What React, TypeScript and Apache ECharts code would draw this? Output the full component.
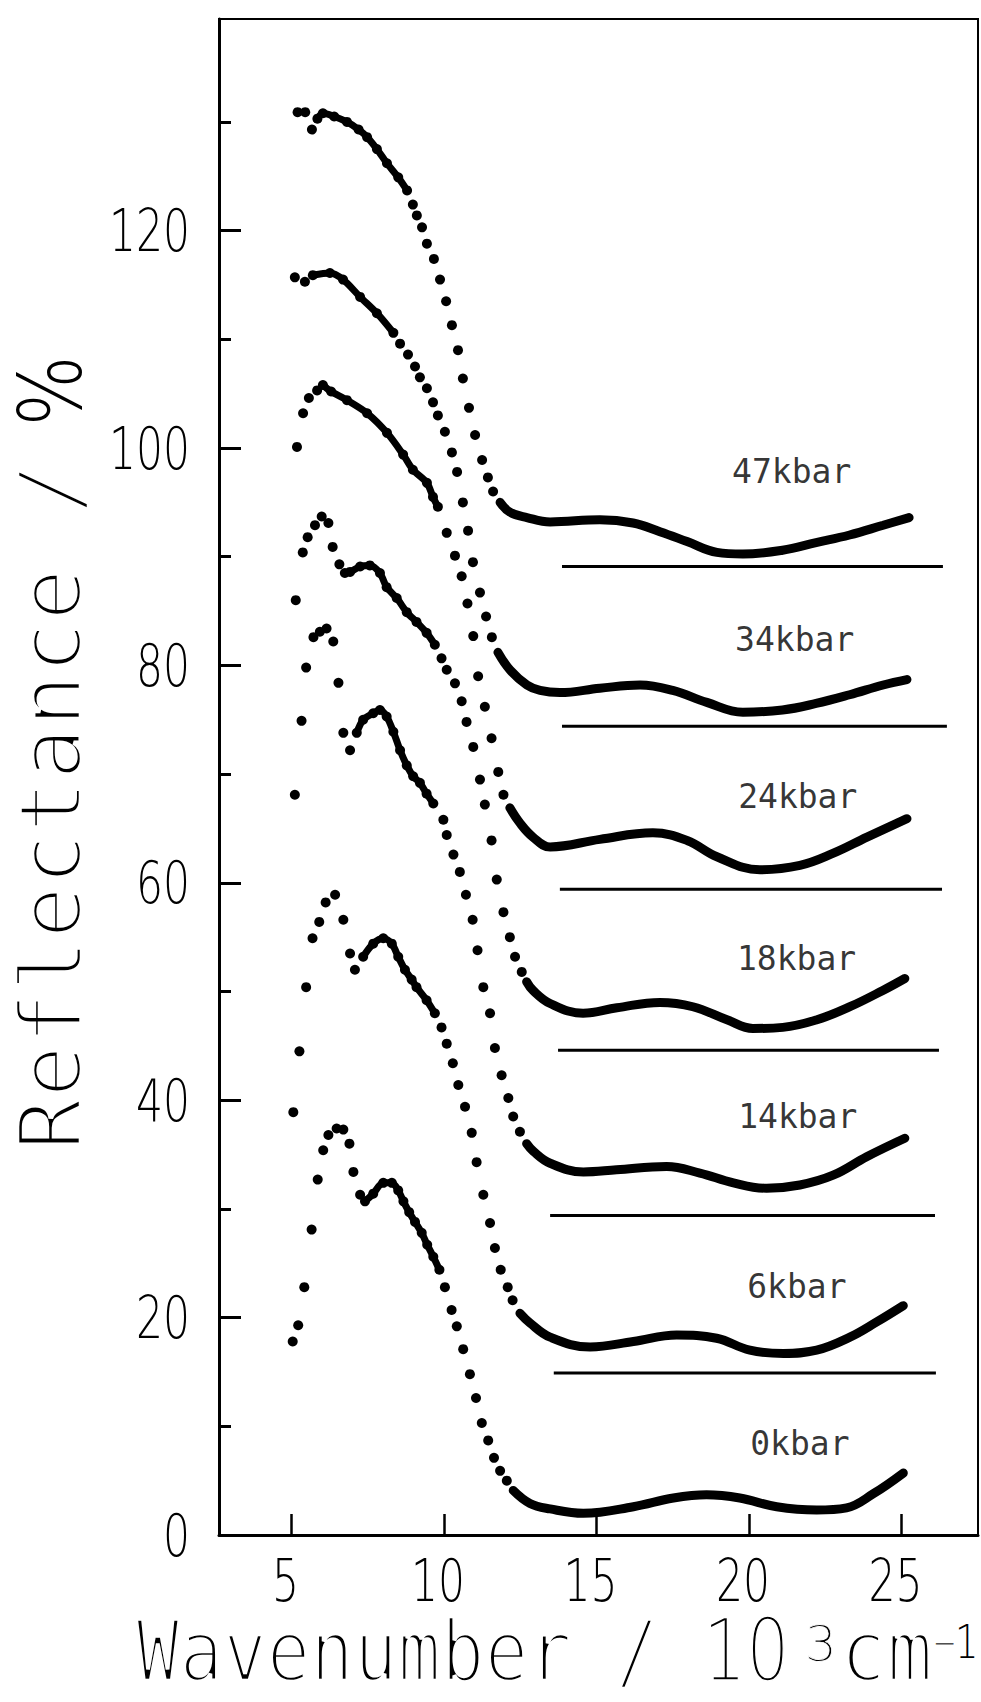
import React, { useEffect, useRef } from "react";
import * as echarts from "echarts";

// ---- axes ----
const xTicks = [5, 10, 15, 20, 25];
const yMajorTicks = [0, 20, 40, 60, 80, 100, 120];
const yMinorTicks = [10, 30, 50, 70, 90, 110, 130];
const xMin = 2.623;
const xMax = 27.51;
const yMax = 139.47;

// ---- curves: sparse dots, dense chains near the peak, dense tails ----
const dots0 = [[5.04,17.8],[5.22,19.3],[5.42,22.8],[5.66,28.1],[5.86,32.7],[6.04,35.4],[6.21,36.8],[6.48,37.4],[6.7,37.3],[6.9,36.0],[7.03,33.4],[7.25,31.3],[10.03,22.8],[10.25,20.7],[10.42,19.2],[10.63,17.1],[10.85,14.8],[11.05,12.6],[11.24,10.3],[11.45,8.7],[11.64,7.1],[11.84,5.9],[12.06,5.0]];
const chain0 = [[7.41,30.7],[7.68,31.4],[8.01,32.4],[8.29,32.4],[8.5,31.7],[8.67,30.7],[8.86,29.7],[9.05,28.8],[9.27,27.8],[9.45,26.7],[9.65,25.6],[9.85,24.4]];
const tail0 = [[12.27,4.1],[12.82,2.9],[13.48,2.4],[14.57,2.0],[16.21,2.6],[17.52,3.4],[18.61,3.7],[19.7,3.4],[20.91,2.6],[22.22,2.3],[23.2,2.5],[24.08,3.8],[25.06,5.7]];

const dots6 = [[5.06,38.9],[5.26,44.5],[5.48,50.4],[5.69,54.9],[5.91,56.4],[6.12,58.2],[6.43,58.9],[6.7,56.6],[6.92,53.5],[7.08,52.0],[9.92,46.7],[10.09,45.2],[10.29,43.4],[10.47,41.4],[10.69,39.4],[10.91,37.0],[11.07,34.3],[11.29,31.3],[11.51,28.7],[11.67,26.4],[11.86,24.4],[12.09,22.8],[12.25,21.6]];
const chain6 = [[7.35,53.2],[7.68,54.4],[8.01,54.9],[8.29,54.4],[8.5,53.2],[8.72,52.0],[8.94,51.1],[9.1,50.4],[9.43,49.2],[9.7,48.0]];
const tail6 = [[12.49,20.4],[12.82,19.5],[13.48,18.2],[14.79,17.3],[16.21,17.8],[17.63,18.4],[18.94,18.1],[20.03,17.0],[21.13,16.7],[22.22,17.0],[23.31,18.2],[24.19,19.6],[25.06,21.1]];

const dots14 = [[5.11,68.1],[5.33,74.9],[5.48,79.8],[5.72,82.6],[5.93,83.1],[6.15,83.4],[6.37,82.2],[6.54,78.4],[6.7,73.8],[6.92,72.2],[9.98,65.8],[10.09,64.4],[10.31,62.6],[10.52,61.0],[10.72,58.9],[10.94,56.6],[11.1,53.8],[11.29,50.4],[11.51,48.0],[11.67,44.8],[11.89,42.3],[12.11,40.2],[12.27,38.5],[12.49,37.1]];
const chain14 = [[7.14,73.8],[7.35,75.0],[7.68,75.6],[7.9,75.9],[8.12,75.3],[8.34,73.9],[8.56,72.2],[8.78,70.8],[8.99,69.8],[9.21,69.2],[9.43,68.2],[9.65,67.3]];
const tail14 = [[12.71,36.0],[12.93,35.3],[13.48,34.2],[14.57,33.4],[15.66,33.6],[17.3,33.9],[18.39,33.3],[19.49,32.4],[20.58,31.9],[21.67,32.2],[22.76,33.1],[23.86,34.8],[25.11,36.5]];

const dots18 = [[5.14,86.0],[5.37,90.4],[5.53,91.8],[5.77,92.9],[5.99,93.7],[6.21,93.1],[6.35,90.9],[6.57,89.3],[9.92,80.65],[10.09,79.6],[10.36,78.35],[10.58,76.7],[10.74,74.8],[10.96,72.5],[11.18,69.5],[11.34,67.2],[11.56,63.9],[11.73,60.3],[11.95,57.3],[12.16,55.0],[12.33,53.2],[12.55,51.8]];
const chain18 = [[6.75,88.5],[6.92,88.6],[7.25,89.1],[7.57,89.2],[7.9,88.5],[8.12,87.2],[8.45,86.2],[8.78,84.9],[9.1,84.0],[9.43,83.0],[9.7,81.9]];
const tail18 = [[12.71,50.9],[12.92,50.1],[13.48,48.9],[14.56,48.0],[15.67,48.5],[17.08,49.0],[18.16,48.6],[19.28,47.4],[20.13,46.6],[21.11,46.7],[22.23,47.4],[23.31,48.6],[24.39,50.1],[25.11,51.2]];

const dots24 = [[5.18,100.1],[5.38,103.2],[5.57,104.6],[5.84,105.3],[10.09,92.2],[10.36,90.1],[10.58,88.2],[10.77,85.7],[10.96,82.7],[11.12,79.0],[11.34,76.2],[11.56,73.3],[11.78,70.2],[11.95,68.1]];
const chain24 = [[6.03,105.8],[6.3,105.2],[6.82,104.4],[7.48,103.2],[8.13,101.4],[8.66,99.4],[8.98,98.0],[9.44,96.8],[9.64,95.5],[9.8,94.6]];
const tail24 = [[12.16,66.9],[12.49,65.5],[12.92,64.2],[13.48,63.3],[15.11,64.0],[16.85,64.6],[17.97,63.9],[18.95,62.4],[20.36,61.2],[21.67,61.6],[22.75,62.7],[23.87,64.2],[25.18,65.9]];

const dots34 = [[5.11,115.7],[5.44,115.3],[8.56,109.6],[8.82,108.6],[9.05,107.5],[9.21,106.5],[9.44,105.5],[9.64,104.2],[9.8,103.0],[10.03,101.5],[10.26,99.6],[10.43,97.8],[10.62,95.0],[10.79,92.4],[10.95,89.5],[11.18,86.7],[11.38,84.5],[11.57,82.6]];
const chain34 = [[5.7,115.9],[6.26,116.1],[6.69,115.5],[7.25,113.9],[7.8,112.4],[8.34,110.6]];
const tail34 = [[11.77,81.2],[12.16,79.6],[12.72,78.2],[13.15,77.7],[13.8,77.5],[15.11,77.9],[16.43,78.2],[17.5,77.7],[18.62,76.6],[19.8,75.7],[21.1,75.9],[22.2,76.5],[23.3,77.3],[24.4,78.2],[25.18,78.7]];

const dots47 = [[5.2,130.9],[5.45,130.9],[5.67,129.3],[8.98,122.4],[9.11,121.4],[9.28,120.3],[9.44,118.8],[9.67,117.4],[9.87,115.5],[10.07,113.5],[10.26,111.3],[10.46,109.0],[10.62,106.4],[10.82,103.7],[11.02,101.2],[11.25,98.9],[11.44,97.3],[11.61,96.0]];
const chain47 = [[5.85,130.3],[6.03,130.8],[6.4,130.5],[6.82,130.0],[7.2,129.3],[7.48,128.6],[7.8,127.5],[8.13,126.2],[8.5,124.9],[8.79,123.7]];
const tail47 = [[11.84,95.0],[12.16,94.1],[12.72,93.6],[13.48,93.2],[15.11,93.4],[16.2,93.1],[17.08,92.3],[17.97,91.4],[18.95,90.4],[19.8,90.25],[21.1,90.6],[22.2,91.3],[23.3,92.0],[24.4,92.9],[25.25,93.6]];

// ---- curve names and their text anchors (data coordinates) ----
const curveNames = ["0kbar", "6kbar", "14kbar", "18kbar", "24kbar", "34kbar", "47kbar"];
const labelX = [21.67, 21.57, 21.6, 21.56, 21.6, 21.5, 21.4];
const labelY = [8.4, 22.9, 38.5, 53.0, 67.9, 82.4, 97.8];

// ---- baselines of the offset curves ----
const baseLevels = [14.9, 29.4, 44.6, 59.4, 74.4, 89.1];
const baseStarts = [13.6, 13.48, 13.74, 13.8, 13.87, 13.87];
const baseEnds = [26.13, 26.1, 26.23, 26.33, 26.49, 26.36];

const allDots = [dots0, dots6, dots14, dots18, dots24, dots34, dots47];
const allChains = [chain0, chain6, chain14, chain18, chain24, chain34, chain47];
const allTails = [tail0, tail6, tail14, tail18, tail24, tail34, tail47];

const thinFamily = "'DejaVu Sans', 'Liberation Sans', sans-serif";
const tickFont = "200 59px " + thinFamily;
const monoFont = "'DejaVu Sans Mono', 'Liberation Mono', monospace";

function textStyle(text: string, font: string, align: string) {
  return {
    text,
    font,
    fill: "#000",
    textAlign: align,
    textVerticalAlign: "middle",
    align,
    verticalAlign: "middle",
  };
}

// a title text drawn in black, then thinned with a white outline pass so the
// strokes look like the thin plotter lettering of the original
function thinText(text: string, font: string, align: string, pos: any, thin: number) {
  const base = { type: "text", silent: true, ...pos };
  return [
    { ...base, style: textStyle(text, font, align) },
    {
      ...base,
      style: {
        ...textStyle(text, font, align),
        fill: "none",
        stroke: "#fff",
        lineWidth: thin,
        lineJoin: "round",
      },
    },
  ];
}

function plainText(text: string, font: string, align: string, pos: any) {
  return { type: "text", silent: true, ...pos, style: textStyle(text, font, align) };
}

function buildOption() {
  const series: any[] = [];
  curveNames.forEach((name, i) => {
    series.push({
      type: "scatter",
      name: name + " dots",
      data: allDots[i],
      symbol: "circle",
      symbolSize: 10,
      itemStyle: { color: "#000", opacity: 1 },
      silent: true,
    });
    series.push({
      type: "line",
      name: name + " chain",
      data: allChains[i],
      symbol: "circle",
      symbolSize: 10,
      showSymbol: true,
      showAllSymbol: true,
      smooth: 0.3,
      lineStyle: { color: "#000", width: 7 },
      itemStyle: { color: "#000", opacity: 1 },
      silent: true,
    });
    series.push({
      type: "line",
      name: name + " tail",
      data: allTails[i],
      showSymbol: false,
      smooth: 0.4,
      lineStyle: { color: "#000", width: 9, cap: "round" },
      silent: true,
    });
  });
  baseLevels.forEach((lv, i) => {
    series.push({
      type: "line",
      name: "base " + i,
      data: [
        [baseStarts[i], lv],
        [baseEnds[i], lv],
      ],
      showSymbol: false,
      lineStyle: { color: "#000", width: 3 },
      silent: true,
    });
  });
  series.push({
    type: "scatter",
    name: "labels",
    data: curveNames.map((n, i) => ({ value: [labelX[i], labelY[i]], name: n })),
    symbolSize: 1,
    itemStyle: { color: "rgba(0,0,0,0)" },
    label: {
      show: true,
      position: "inside",
      formatter: "{b}",
      fontFamily: monoFont,
      fontSize: 33,
      color: "#000",
    },
    silent: true,
  });
  // tick labels, placed through the axes' scales (narrow plotter-like digits)
  series.push({
    type: "custom",
    name: "y tick labels",
    coordinateSystem: "cartesian2d",
    data: yMajorTicks.map((v) => [xMin, v]),
    clip: false,
    silent: true,
    renderItem: (params: any, api: any) => {
      const p = api.coord([api.value(0), api.value(1)]);
      return {
        type: "text",
        x: p[0] - 29,
        y: p[1],
        scaleX: 0.72,
        style: textStyle(String(api.value(1)), tickFont, "right"),
      };
    },
  });
  series.push({
    type: "custom",
    name: "x tick labels",
    coordinateSystem: "cartesian2d",
    data: xTicks.map((v) => [v, 0]),
    clip: false,
    silent: true,
    renderItem: (params: any, api: any) => {
      const p = api.coord([api.value(0), api.value(1)]);
      return {
        type: "text",
        x: p[0] - 6,
        y: p[1] + 45,
        scaleX: 0.72,
        style: textStyle(String(api.value(0)), tickFont, "center"),
      };
    },
  });

  const graphic: any[] = [
    // y-axis title, reading bottom to top
    ...thinText("Reflectance / ", "88px " + monoFont, "left", { x: 50, y: 1151, rotation: Math.PI / 2 }, 4.5),
    plainText("%", "200 88px " + thinFamily, "center", { x: 50, y: 391, rotation: Math.PI / 2, scaleX: 0.85 }),
    // x-axis title
    ...thinText("Wavenumber / ", "86px " + monoFont, "left", { x: 136, y: 1651, scaleX: 0.842 }, 4.5),
    ...thinText("10", "200 85px " + thinFamily, "left", { x: 703, y: 1651, scaleX: 0.8 }, 1.5),
    ...thinText("3", "200 50px " + thinFamily, "left", { x: 805, y: 1644 }, 0.8),
    ...thinText("cm", "86px " + monoFont, "left", { x: 840, y: 1651, scaleX: 0.9 }, 4.5),
    ...thinText("\u2212", "46px " + monoFont, "left", { x: 933, y: 1642, scaleX: 0.842 }, 2.5),
    plainText("1", "200 46px " + thinFamily, "left", { x: 955, y: 1642, scaleX: 0.8 }),
  ];

  return {
    animation: false,
    backgroundColor: "#fff",
    grid: {
      left: 219,
      right: 3,
      top: 19,
      bottom: 167,
      show: true,
      borderColor: "#000",
      borderWidth: 2,
      backgroundColor: "transparent",
    },
    xAxis: [
      {
        type: "value",
        min: xMin,
        max: xMax,
        position: "bottom",
        axisLine: { show: true, onZero: false, lineStyle: { color: "#000", width: 3 } },
        axisTick: {
          show: true,
          inside: true,
          length: 21,
          customValues: xTicks,
          lineStyle: { color: "#000", width: 2.5 },
        },
        axisLabel: { show: false },
        splitLine: { show: false },
      },
    ],
    yAxis: [
      {
        type: "value",
        min: 0,
        max: yMax,
        position: "left",
        axisLine: { show: true, onZero: false, lineStyle: { color: "#000", width: 3 } },
        axisTick: {
          show: true,
          inside: true,
          length: 22,
          customValues: yMajorTicks,
          lineStyle: { color: "#000", width: 3 },
        },
        axisLabel: { show: false },
        splitLine: { show: false },
      },
      {
        type: "value",
        min: 0,
        max: yMax,
        position: "left",
        axisLine: { show: false },
        axisLabel: { show: false },
        splitLine: { show: false },
        axisTick: {
          show: true,
          inside: true,
          length: 12,
          customValues: yMinorTicks,
          lineStyle: { color: "#000", width: 3 },
        },
      },
    ],
    graphic,
    series,
  };
}

export default function App() {
  const ref = useRef<HTMLDivElement>(null);
  useEffect(() => {
    document.body.style.margin = "0";
    const chart = echarts.init(ref.current as HTMLDivElement, null, { renderer: "svg" });
    chart.setOption(buildOption() as any);
    return () => {
      chart.dispose();
    };
  }, []);
  return <div ref={ref} style={{ width: 981, height: 1702 }} />;
}
